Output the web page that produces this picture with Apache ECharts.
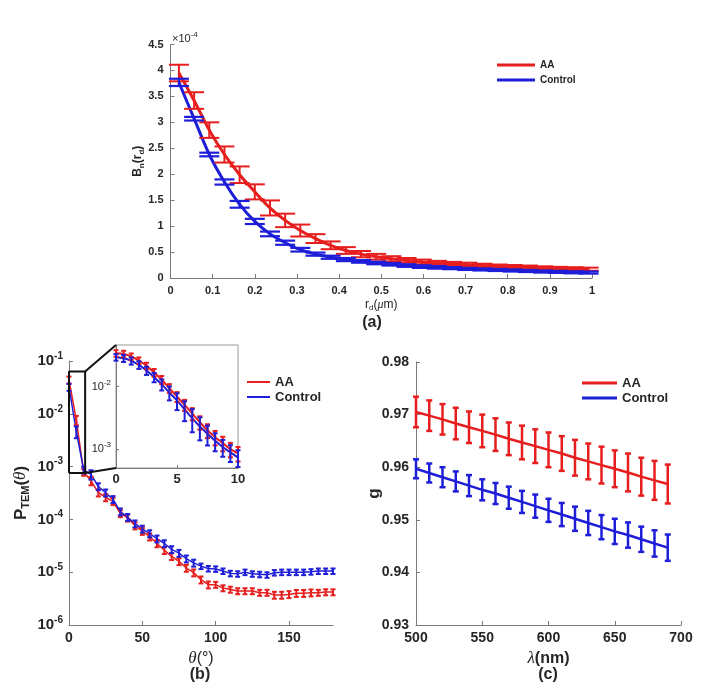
<!DOCTYPE html>
<html><head><meta charset="utf-8">
<script src="https://cdn.jsdelivr.net/npm/echarts@6/dist/echarts.min.js"></script>
<style>html,body{margin:0;padding:0;background:#fff}#c{width:716px;height:691px}</style>
</head><body><div id="c"></div>
<script>
// ---------- Panel (a): B_n(r_d), values in units of 1e-4 ----------
const aR = [0.020,0.056,0.092,0.128,0.164,0.200,0.236,0.272,0.308,0.344,0.380,0.416,0.452,0.488,0.524,0.560,0.596,0.632,0.668,0.704,0.740,0.776,0.812,0.848,0.884,0.920,0.956,0.992];
const aAA = [3.95,3.42,2.85,2.38,1.99,1.66,1.35,1.11,0.915,0.76,0.63,0.53,0.46,0.41,0.37,0.34,0.31,0.29,0.27,0.255,0.24,0.225,0.215,0.205,0.195,0.185,0.178,0.17];
const aAAErr = [0.16,0.16,0.15,0.155,0.16,0.145,0.145,0.13,0.115,0.085,0.075,0.065,0.06,0.055,0.05,0.045,0.045,0.04,0.04,0.04,0.035,0.035,0.035,0.035,0.03,0.03,0.03,0.03];
const aCtl = [3.77,3.07,2.38,1.85,1.42,1.09,0.85,0.68,0.545,0.46,0.40,0.355,0.32,0.29,0.265,0.24,0.22,0.205,0.19,0.175,0.165,0.155,0.145,0.135,0.125,0.118,0.11,0.105];
const aCtlErr = [0.07,0.035,0.035,0.05,0.065,0.05,0.045,0.04,0.035,0.03,0.03,0.03,0.025,0.025,0.025,0.025,0.025,0.025,0.02,0.02,0.02,0.02,0.02,0.02,0.02,0.02,0.02,0.02];

// ---------- Panel (b): P_TEM(theta) ----------
const bTheta = [0,5,10,15,20,25,30,35,40,45,50,55,60,65,70,75,80,85,90,95,100,105,110,115,120,125,130,135,140,145,150,155,160,165,170,175,180];
const bAA = [0.044,0.0076,7.9e-4,5.4e-4,3.2e-4,2.6e-4,2.2e-4,1.3e-4,1.07e-4,7.6e-5,6.0e-5,4.7e-5,3.5e-5,2.6e-5,2.0e-5,1.6e-5,1.2e-5,9.8e-6,7.2e-6,5.8e-6,5.8e-6,5.0e-6,4.7e-6,4.4e-6,4.4e-6,4.4e-6,4.1e-6,4.1e-6,3.7e-6,3.7e-6,3.8e-6,4.0e-6,4.0e-6,4.1e-6,4.1e-6,4.2e-6,4.2e-6];
const bAARelErr = [0.15,0.2,0.15,0.18,0.15,0.15,0.15,0.15,0.15,0.15,0.15,0.15,0.15,0.15,0.15,0.15,0.15,0.15,0.15,0.15,0.13,0.13,0.13,0.13,0.13,0.13,0.13,0.13,0.15,0.15,0.15,0.15,0.15,0.15,0.13,0.13,0.13];
const bCtl = [0.032,0.0046,8.7e-4,7.1e-4,4.2e-4,3.2e-4,2.4e-4,1.4e-4,1.1e-4,8.3e-5,6.6e-5,5.4e-5,4.3e-5,3.5e-5,2.7e-5,2.3e-5,1.8e-5,1.5e-5,1.3e-5,1.17e-5,1.15e-5,1.05e-5,9.5e-6,9.3e-6,1.0e-5,9.3e-6,9.1e-6,8.9e-6,9.8e-6,1.0e-5,1.0e-5,1.0e-5,1.0e-5,1.02e-5,1.05e-5,1.05e-5,1.05e-5];
const bCtlRelErr = [0.15,0.25,0.15,0.2,0.15,0.15,0.15,0.15,0.15,0.15,0.15,0.15,0.15,0.15,0.15,0.15,0.15,0.15,0.12,0.12,0.12,0.12,0.12,0.12,0.12,0.12,0.12,0.12,0.12,0.12,0.12,0.12,0.12,0.12,0.12,0.12,0.12];
// zoom box drawn on the main panel (theta range, P range)
const boxTheta = [0, 11];
const boxP = [7.6e-4, 0.063];

// ---------- Inset of (b) ----------
const inTheta = [0,0.625,1.25,1.875,2.5,3.125,3.75,4.375,5,5.625,6.25,6.875,7.5,8.125,8.75,9.375,10];
const inAA = [0.0340,0.0332,0.0301,0.0260,0.0214,0.0167,0.0128,0.0094,0.0069,0.0051,0.0037,0.0027,0.0020,0.00155,0.00125,0.00100,0.00086];
const inAARelErr = [0.12,0.12,0.12,0.12,0.12,0.14,0.15,0.16,0.18,0.2,0.22,0.24,0.25,0.26,0.26,0.26,0.26];
const inCtl = [0.0294,0.0283,0.0257,0.0222,0.0180,0.0141,0.0108,0.0080,0.0060,0.0043,0.0031,0.0023,0.00176,0.00136,0.00108,0.00089,0.00074];
const inCtlRelErr = [0.12,0.13,0.13,0.14,0.15,0.17,0.2,0.25,0.3,0.35,0.4,0.4,0.35,0.32,0.3,0.3,0.3];

// ---------- Panel (c): g(lambda) ----------
const cLambda = [500,510,520,530,540,550,560,570,580,590,600,610,620,630,640,650,660,670,680,690];
const cAA = [0.9705,0.9698,0.9691,0.9683,0.9676,0.9669,0.9662,0.9654,0.9647,0.9640,0.9633,0.9626,0.9618,0.9611,0.9604,0.9597,0.9590,0.9582,0.9575,0.9568];
const cAAErr = [0.0029,0.0029,0.0029,0.0030,0.0030,0.0031,0.0031,0.0031,0.0032,0.0032,0.0033,0.0033,0.0034,0.0034,0.0035,0.0035,0.0036,0.0036,0.0037,0.0037];
const cCtl = [0.9597,0.9589,0.9581,0.9573,0.9565,0.9557,0.9550,0.9542,0.9534,0.9526,0.9518,0.9510,0.9502,0.9494,0.9486,0.9478,0.9471,0.9463,0.9455,0.9447];
const cCtlErr = [0.0018,0.0018,0.0019,0.0019,0.0020,0.0020,0.0020,0.0021,0.0021,0.0022,0.0022,0.0022,0.0023,0.0023,0.0023,0.0024,0.0024,0.0024,0.0025,0.0025];

// ---------- styling ----------
const RED = '#e61e1e', BLUE = '#1e1ed8';
const FONT = 'Liberation Sans';
const TXT = '#262626', AX = '#7a7a7a';

const pairs = (x, y) => x.map((v, i) => [v, y[i]]);
const absErr = (x, y, e) => x.map((v, i) => [v, y[i] - e[i], y[i] + e[i]]);
const relErr = (x, y, e) => x.map((v, i) => [v, y[i] * (1 - e[i]), y[i] * (1 + e[i])]);

function errRender(capHalf, lw, color) {
  return function (params, api) {
    const x = api.value(0), lo = api.value(1), hi = api.value(2);
    const p1 = api.coord([x, lo]), p2 = api.coord([x, hi]);
    const st = { stroke: color, lineWidth: lw };
    return { type: 'group', children: [
      { type: 'line', shape: { x1: p1[0], y1: p1[1], x2: p2[0], y2: p2[1] }, style: st },
      { type: 'line', shape: { x1: p1[0] - capHalf, y1: p1[1], x2: p1[0] + capHalf, y2: p1[1] }, style: st },
      { type: 'line', shape: { x1: p2[0] - capHalf, y1: p2[1], x2: p2[0] + capHalf, y2: p2[1] }, style: st }
    ]};
  };
}
function errSeries(name, idx, data, capHalf, lw, color) {
  return { type: 'custom', name: name, xAxisIndex: idx, yAxisIndex: idx, data: data,
    encode: { x: 0, y: [1, 2] }, renderItem: errRender(capHalf, lw, color), silent: true, z: 3 };
}
function lineSeries(name, idx, data, color, w, smooth) {
  return { type: 'line', name: name, xAxisIndex: idx, yAxisIndex: idx, data: data, showSymbol: false,
    smooth: smooth, lineStyle: { color: color, width: w }, itemStyle: { color: color }, z: 2, silent: true };
}
const axLine = { show: true, lineStyle: { color: AX, width: 1 } };
const tickIn = (len) => ({ show: true, inside: true, length: len, lineStyle: { color: AX } });
const lab = (size, extra) => Object.assign({ color: TXT, fontSize: size, fontWeight: 'bold', fontFamily: FONT }, extra || {});
const expFmt = (v) => '{b|10}{s|' + Math.round(Math.log10(v)) + '}';

const chart = echarts.init(document.getElementById('c'), null, { renderer: 'canvas' });

const option = {
  animation: false,
  backgroundColor: '#fff',
  textStyle: { fontFamily: FONT },
  grid: [
    { left: 170.5, top: 44.5, width: 421.5, height: 233.5 },
    { left: 69, top: 361, width: 264, height: 264 },
    { left: 116, top: 345, width: 122, height: 123, show: true, borderColor: '#9a9a9a', borderWidth: 1, backgroundColor: '#fff' },
    { left: 416, top: 362, width: 265, height: 263 }
  ],
  xAxis: [
    { type: 'value', gridIndex: 0, min: 0, max: 1, interval: 0.1, axisLine: axLine, axisTick: tickIn(4),
      splitLine: { show: false }, axisLabel: lab(11, { margin: 7 }),
      name: '{n|r}{s|d}{n|(}{m|μ}{n|m)}', nameLocation: 'middle', nameGap: 19, nameMoveOverlap: false,
      nameTextStyle: { color: TXT, rich: {
        n: { fontSize: 12, fontFamily: FONT, color: TXT },
        s: { fontSize: 8, fontFamily: FONT, color: TXT, padding: [7, 0, 0, 0] },
        m: { fontSize: 12, fontFamily: 'Liberation Serif', fontStyle: 'italic', color: TXT } } } },
    { type: 'value', gridIndex: 1, min: 0, max: 180, axisLine: axLine,
      axisTick: Object.assign(tickIn(4), { customValues: [0, 50, 100, 150] }),
      splitLine: { show: false }, axisLabel: lab(14, { margin: 6, customValues: [0, 50, 100, 150] }),
      name: '{i|θ}{n|(°)}', nameLocation: 'middle', nameGap: 25, nameMoveOverlap: false,
      nameTextStyle: { rich: {
        i: { fontSize: 17, fontFamily: 'Liberation Serif', fontStyle: 'italic', color: TXT },
        n: { fontSize: 16, fontFamily: FONT, color: TXT } } } },
    { type: 'value', gridIndex: 2, min: 0, max: 10, interval: 5, axisLine: axLine, axisTick: tickIn(3),
      splitLine: { show: false }, axisLabel: lab(13, { margin: 5 }) },
    { type: 'value', gridIndex: 3, min: 500, max: 700, interval: 50, axisLine: axLine, axisTick: tickIn(4),
      splitLine: { show: false }, axisLabel: lab(14, { margin: 6 }),
      name: '{i|λ}{n|(nm)}', nameLocation: 'middle', nameGap: 25, nameMoveOverlap: false,
      nameTextStyle: { rich: {
        i: { fontSize: 17, fontFamily: 'Liberation Serif', fontStyle: 'italic', color: TXT },
        n: { fontSize: 16, fontFamily: FONT, fontWeight: 'bold', color: TXT } } } }
  ],
  yAxis: [
    { type: 'value', gridIndex: 0, min: 0, max: 4.5, interval: 0.5, axisLine: axLine, axisTick: tickIn(4),
      splitLine: { show: false }, axisLabel: lab(11, { margin: 7 }),
      name: '{n|B}{s|n}{n|(r}{s|d}{n|)}', nameLocation: 'middle', nameGap: 25, nameRotate: 90, nameMoveOverlap: false,
      nameTextStyle: { rich: {
        n: { fontSize: 12, fontFamily: FONT, fontWeight: 'bold', color: TXT },
        s: { fontSize: 8, fontFamily: FONT, fontWeight: 'bold', color: TXT, padding: [7, 0, 0, 0] } } } },
    { type: 'log', logBase: 10, gridIndex: 1, min: 1e-6, max: 0.1, axisLine: axLine, axisTick: tickIn(4),
      splitLine: { show: false },
      axisLabel: lab(14, { margin: 6, formatter: expFmt, rich: {
        b: { fontSize: 15, fontWeight: 'bold', fontFamily: FONT, color: TXT },
        s: { fontSize: 10, fontWeight: 'bold', fontFamily: FONT, color: TXT, padding: [0, 0, 10, 0] } } }),
      name: '{p|P}{s|TEM}{p|(}{i|θ}{p|)}', nameLocation: 'middle', nameGap: 38, nameRotate: 90, nameMoveOverlap: false,
      nameTextStyle: { rich: {
        p: { fontSize: 17, fontFamily: FONT, fontWeight: 'bold', color: TXT },
        s: { fontSize: 11, fontFamily: FONT, fontWeight: 'bold', color: TXT, padding: [9, 0, 0, 0] },
        i: { fontSize: 17, fontFamily: 'Liberation Serif', fontStyle: 'italic', color: TXT } } } },
    { type: 'log', logBase: 10, gridIndex: 2, min: 5e-4, max: 0.046, axisLine: axLine, axisTick: tickIn(3),
      splitLine: { show: false },
      axisLabel: { showMinLabel: false, showMaxLabel: false, margin: 5, formatter: expFmt, rich: {
        b: { fontSize: 11, fontFamily: FONT, color: TXT },
        s: { fontSize: 8, fontFamily: FONT, color: TXT, padding: [0, 0, 8, 0] } } } },
    { type: 'value', gridIndex: 3, min: 0.93, max: 0.98, interval: 0.01, axisLine: axLine, axisTick: tickIn(4),
      splitLine: { show: false }, axisLabel: lab(14, { margin: 7 }),
      name: 'g', nameLocation: 'middle', nameGap: 33, nameRotate: 90, nameMoveOverlap: false,
      nameTextStyle: { fontSize: 17, fontWeight: 'bold', fontFamily: FONT, color: TXT } }
  ],
  legend: [
    { data: ['AA', 'Control'], orient: 'vertical', left: 497, top: 60, padding: 0, itemGap: 5,
      itemWidth: 38, itemHeight: 3, icon: 'rect', textStyle: lab(10) },
    { data: ['AA', 'Control'], orient: 'vertical', left: 247, top: 375.5, padding: 0, itemGap: 2,
      itemWidth: 23, itemHeight: 2, icon: 'rect', textStyle: lab(13) },
    { data: ['AA', 'Control'], orient: 'vertical', left: 582, top: 376.5, padding: 0, itemGap: 2,
      itemWidth: 35, itemHeight: 3, icon: 'rect', textStyle: lab(13) }
  ],
  series: [
    // (a)
    lineSeries('AA', 0, pairs(aR, aAA), RED, 3, 0.3),
    errSeries('AA err a', 0, absErr(aR, aAA, aAAErr), 10, 2, RED),
    lineSeries('Control', 0, pairs(aR, aCtl), BLUE, 3, 0.3),
    errSeries('Control err a', 0, absErr(aR, aCtl, aCtlErr), 10, 2.2, BLUE),
    // (b)
    lineSeries('AA', 1, pairs(bTheta, bAA), RED, 1.5, false),
    errSeries('AA err b', 1, relErr(bTheta, bAA, bAARelErr), 2.5, 2, RED),
    lineSeries('Control', 1, pairs(bTheta, bCtl), BLUE, 1.5, false),
    errSeries('Control err b', 1, relErr(bTheta, bCtl, bCtlRelErr), 2.5, 2, BLUE),
    { type: 'line', name: 'zoom box', xAxisIndex: 1, yAxisIndex: 1, showSymbol: false, silent: true, z: 4,
      lineStyle: { color: '#111', width: 2 },
      data: [[boxTheta[0], boxP[0]], [boxTheta[1], boxP[0]], [boxTheta[1], boxP[1]], [boxTheta[0], boxP[1]], [boxTheta[0], boxP[0]]] },
    // inset
    lineSeries('AA', 2, pairs(inTheta, inAA), RED, 2, 0.3),
    errSeries('AA err in', 2, relErr(inTheta, inAA, inAARelErr), 2.5, 2, RED),
    lineSeries('Control', 2, pairs(inTheta, inCtl), BLUE, 2, 0.3),
    errSeries('Control err in', 2, relErr(inTheta, inCtl, inCtlRelErr), 2.5, 2, BLUE),
    // (c)
    lineSeries('AA', 3, pairs(cLambda, cAA), RED, 2.5, false),
    errSeries('AA err c', 3, absErr(cLambda, cAA, cAAErr), 3, 2.5, RED),
    lineSeries('Control', 3, pairs(cLambda, cCtl), BLUE, 2.5, false),
    errSeries('Control err c', 3, absErr(cLambda, cCtl, cCtlErr), 3, 2.5, BLUE)
  ]
};
chart.setOption(option);

// connector lines from the zoom box to the inset, plus panel tags
const mainTR = chart.convertToPixel({ xAxisIndex: 1, yAxisIndex: 1 }, [boxTheta[1], boxP[1]]);
const mainBR = chart.convertToPixel({ xAxisIndex: 1, yAxisIndex: 1 }, [boxTheta[1], boxP[0]]);
const inTL = chart.convertToPixel({ xAxisIndex: 2, yAxisIndex: 2 }, [0, 0.046]);
const inBL = chart.convertToPixel({ xAxisIndex: 2, yAxisIndex: 2 }, [0, 5e-4]);
const tag = (t, x, y) => ({ type: 'text', x: x, y: y, z: 10,
  style: { text: t, font: 'bold 16px "Liberation Sans"', fill: TXT, align: 'center', verticalAlign: 'middle' } });
chart.setOption({ graphic: { elements: [
  { type: 'line', z: 10, shape: { x1: mainTR[0], y1: mainTR[1], x2: inTL[0], y2: inTL[1] }, style: { stroke: '#111', lineWidth: 2 } },
  { type: 'line', z: 10, shape: { x1: mainBR[0], y1: mainBR[1], x2: inBL[0], y2: inBL[1] }, style: { stroke: '#111', lineWidth: 2 } },
  tag('(a)', 372, 323), tag('(b)', 200, 675), tag('(c)', 548, 675),
  { type: 'text', x: 172, y: 31, z: 10, style: { text: '×10{s|-4}', font: '11px "Liberation Sans"', fill: TXT,
      rich: { s: { fontSize: 8, fontFamily: FONT, fill: TXT, padding: [0, 0, 8, 0] } } } }
] } });
</script>
</body></html>
